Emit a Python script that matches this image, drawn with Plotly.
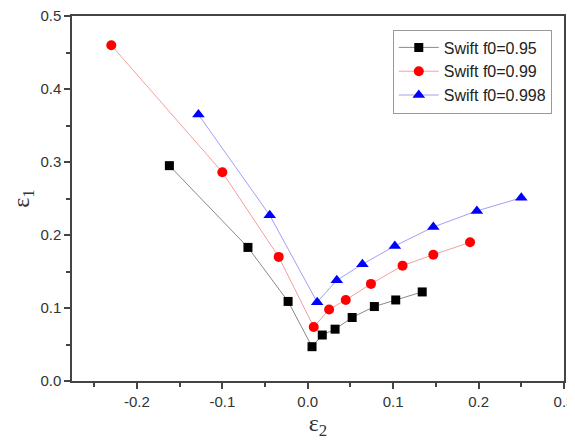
import plotly.graph_objects as go

# Data
x_095 = [-0.162, -0.070, -0.023, 0.005, 0.017, 0.032, 0.052, 0.078, 0.103, 0.134]
y_095 = [0.295, 0.183, 0.109, 0.047, 0.063, 0.071, 0.087, 0.102, 0.111, 0.122]

x_099 = [-0.230, -0.100, -0.034, 0.007, 0.025, 0.0445, 0.074, 0.111, 0.147, 0.190]
y_099 = [0.460, 0.286, 0.170, 0.074, 0.098, 0.111, 0.133, 0.158, 0.173, 0.190]

x_0998 = [-0.128, -0.0445, 0.011, 0.034, 0.064, 0.102, 0.147, 0.198, 0.250]
y_0998 = [0.365, 0.227, 0.108, 0.138, 0.160, 0.185, 0.211, 0.233, 0.251]

names = ["Swift f0=0.95", "Swift f0=0.99", "Swift f0=0.998"]

x_tickvals = [-0.2, -0.1, 0.0, 0.1, 0.2, 0.3]
x_ticktext = ["-0.2", "-0.1", "0.0", "0.1", "0.2", "0.3"]
y_tickvals = [0.0, 0.1, 0.2, 0.3, 0.4, 0.5]
y_ticktext = ["0.0", "0.1", "0.2", "0.3", "0.4", "0.5"]

fig = go.Figure()
fig.add_trace(go.Scatter(x=x_095, y=y_095, name=names[0], mode="lines+markers",
                         line=dict(color="#8a8a8a", width=1),
                         marker=dict(symbol="square", size=9, color="black")))
fig.add_trace(go.Scatter(x=x_099, y=y_099, name=names[1], mode="lines+markers",
                         line=dict(color="#f4a0a0", width=1),
                         marker=dict(symbol="circle", size=10, color="red")))
fig.add_trace(go.Scatter(x=x_0998, y=y_0998, name=names[2], mode="lines+markers",
                         line=dict(color="#a0a0f4", width=1),
                         marker=dict(symbol="triangle-up", size=11, color="blue")))

axis_common = dict(
    showline=True, linecolor="#444444", linewidth=1.5, mirror=True,
    ticks="outside", ticklen=6, tickwidth=1.5, tickcolor="#444444",
    showgrid=False, zeroline=False, automargin=False, ticklabeloverflow="allow",
    tickfont=dict(family="Arial, Liberation Sans", size=15, color="#333333"),
)

title_font = dict(family="Times New Roman, Liberation Serif", size=24, color="#333333")

fig.update_xaxes(range=[-0.276, 0.3], tickmode="array", tickvals=x_tickvals, ticktext=x_ticktext,
                 minor=dict(ticks="outside", ticklen=4, tickcolor="#444444", dtick=0.05, tick0=0),
                 title=dict(text="ε<sub>2</sub>", font=title_font, standoff=12),
                 **axis_common)
fig.update_yaxes(range=[0, 0.5], tickmode="array", tickvals=y_tickvals, ticktext=y_ticktext,
                 minor=dict(ticks="outside", ticklen=4, tickcolor="#444444", dtick=0.05, tick0=0),
                 title=dict(text="ε<sub>1</sub>", font=title_font, standoff=8),
                 **axis_common)

# the page body adds an 8px margin, so the figure is sized/offset to compensate
fig.update_layout(
    width=567, height=432,
    margin=dict(l=64, r=11, t=8, b=59),
    plot_bgcolor="white", paper_bgcolor="white",
    showlegend=True,
    legend=dict(x=0.652, y=0.963, xanchor="left", yanchor="top",
                bordercolor="#999999", borderwidth=1, bgcolor="white",
                font=dict(family="Arial, Liberation Sans", size=16, color="#222222"),
                tracegroupgap=0, itemwidth=40),
)

fig.write_html("out.html")
